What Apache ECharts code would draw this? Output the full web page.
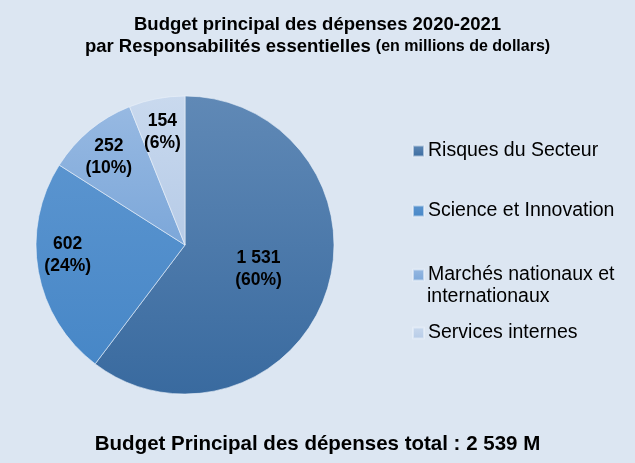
<!DOCTYPE html>
<html>
<head>
<meta charset="utf-8">
<script src="https://cdn.jsdelivr.net/npm/echarts@6/dist/echarts.min.js"></script>
<style>
html,body{margin:0;padding:0;background:#dce6f2;}
#chart{width:635px;height:463px;}
</style>
</head>
<body>
<div id="chart"></div>
<script>
var categories = ['Risques du Secteur', 'Science et Innovation', 'Marchés nationaux et internationaux', 'Services internes'];
var values = [1531, 602, 252, 154];
var titleLine1 = 'Budget principal des dépenses 2020-2021';
var titleLine2 = 'par Responsabilités essentielles ';
var titleUnit = '(en millions de dollars)';
var totalLabel = 'Budget Principal des dépenses total : ';

var FONT = '"Liberation Sans", Arial, sans-serif';
var gradients = [
  ['#6089b6', '#396a9f'],
  ['#5a94cf', '#4787c7'],
  ['#97b9e2', '#7ca7d9'],
  ['#c9d9ee', '#b6cbe7']
];
function grad(c) {
  return new echarts.graphic.LinearGradient(0, 0, 0, 1, [{offset: 0, color: c[0]}, {offset: 1, color: c[1]}]);
}
function fmtNum(v) {
  return String(v).replace(/\B(?=(\d{3})+(?!\d))/g, ' ');
}
var total = values.reduce(function (a, b) { return a + b; }, 0);

var chart = echarts.init(document.getElementById('chart'));
var center = [185, 245];
var R = 149;
var labelFmt = function (p) {
  return fmtNum(p.value) + '\n(' + Math.round(p.value / total * 100) + '%)';
};
var labelStyle = {fontFamily: FONT, fontSize: 17.5, fontWeight: 'bold', color: '#000', lineHeight: 22};
var labelShift = [0, -11, 4, 4];

var mainData = categories.map(function (n, i) {
  return {name: n, value: values[i], itemStyle: {color: grad(gradients[i])},
    label: {show: i === 0}};
});
var outerData = categories.map(function (n, i) {
  return {name: n, value: values[i], label: {show: i !== 0}};
});

var legends = [];
var legendTops = [140, 200, 264, 322];
var legendTexts = ['Risques du Secteur', 'Science et Innovation', 'Marchés nationaux et', 'Services internes'];
categories.forEach(function (n, i) {
  legends.push({
    data: [n], left: 412, top: legendTops[i], orient: 'vertical',
    itemWidth: 11, itemHeight: 11, itemGap: 0, padding: 0,
    icon: 'rect',
    formatter: function () { return legendTexts[i]; },
    textStyle: {fontFamily: FONT, fontSize: 19.5, color: '#000', lineHeight: 22, padding: [0, 0, 0, -1]},
    selectedMode: false
  });
});

chart.setOption({
  backgroundColor: '#dce6f2',
  animation: false,
  title: [{
    text: '{a|' + titleLine1 + '}\n{a|' + titleLine2 + '}{b|' + titleUnit + '}',
    left: 'center', top: 9,
    textStyle: {
      rich: {
        a: {fontFamily: FONT, fontSize: 18.5, fontWeight: 'bold', color: '#000', lineHeight: 22},
        b: {fontFamily: FONT, fontSize: 16, fontWeight: 'bold', color: '#000', lineHeight: 22}
      }
    }
  }, {
    text: totalLabel + fmtNum(total) + ' M',
    left: 'center', top: 429,
    textStyle: {fontFamily: FONT, fontSize: 20.5, fontWeight: 'bold', color: '#000'}
  }],
  legend: legends,
  graphic: [{
    type: 'text', left: 427, top: 287,
    style: {text: 'internationaux', font: '19.5px ' + FONT, fill: '#000'}
  }],
  series: [{
    type: 'pie', center: center, radius: [0, R], startAngle: 90, clockwise: true,
    silent: true,
    itemStyle: {borderColor: 'rgba(235,242,250,0.6)', borderWidth: 1},
    label: Object.assign({position: 'inside', formatter: labelFmt}, labelStyle),
    labelLine: {show: false},
    data: mainData
  }, {
    type: 'pie', center: center, radius: [R * 0.56, R], startAngle: 90, clockwise: true,
    silent: true,
    itemStyle: {color: 'rgba(0,0,0,0)', borderWidth: 0},
    label: Object.assign({position: 'inside', formatter: labelFmt}, labelStyle),
    labelLine: {show: false},
    labelLayout: function (p) { return {dy: labelShift[p.dataIndex]}; },
    legendHoverLink: false,
    data: outerData
  }]
});
</script>
</body>
</html>
